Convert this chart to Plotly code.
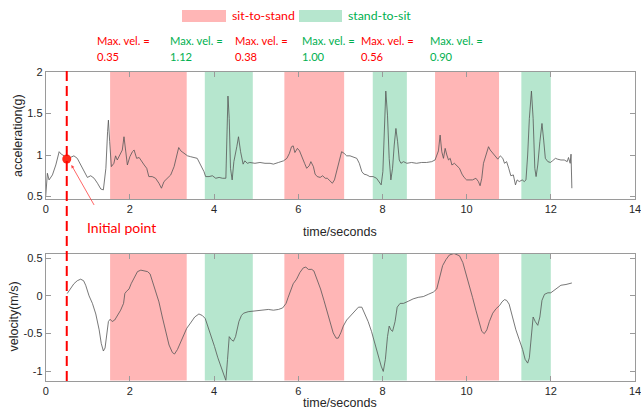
import plotly.graph_objects as go

W, H = 641, 414

# ---------------- data ----------------
t_acc = [0.00, 0.04, 0.08, 0.16, 0.24, 0.32, 0.37, 0.44, 0.50, 0.59, 0.67, 0.75, 0.83, 0.91, 0.99,
         1.07, 1.15, 1.23, 1.31, 1.37, 1.43, 1.47, 1.49, 1.52, 1.56, 1.62, 1.66, 1.70, 1.77, 1.82,
         1.86, 1.90, 1.94, 2.00, 2.06, 2.10, 2.16, 2.22, 2.28, 2.34, 2.40, 2.45, 2.53, 2.61, 2.69,
         2.75, 2.81, 2.89, 2.97, 3.05, 3.11, 3.16, 3.21, 3.29, 3.37, 3.44, 3.52, 3.60, 3.68, 3.76,
         3.80, 3.88, 3.96, 4.04, 4.12, 4.20, 4.28, 4.30, 4.33, 4.36, 4.39, 4.43, 4.47, 4.54, 4.58,
         4.63, 4.69, 4.73, 4.79, 4.85, 4.97, 5.09, 5.21, 5.33, 5.41, 5.53, 5.65, 5.73, 5.79, 5.84,
         5.88, 5.92, 5.98, 6.03, 6.08, 6.15, 6.20, 6.26, 6.30, 6.36, 6.40, 6.45, 6.52, 6.58, 6.64,
         6.69, 6.75, 6.81, 6.86, 6.91, 6.96, 6.99, 7.03, 7.09, 7.15, 7.23, 7.31, 7.39, 7.45, 7.51,
         7.56, 7.63, 7.70, 7.78, 7.86, 7.93, 7.97, 8.01, 8.04, 8.08, 8.12, 8.16, 8.20, 8.24, 8.28,
         8.32, 8.36, 8.40, 8.44, 8.50, 8.58, 8.69, 8.81, 8.93, 9.05, 9.17, 9.25, 9.29, 9.33, 9.37,
         9.41, 9.45, 9.49, 9.53, 9.57, 9.61, 9.65, 9.71, 9.76, 9.83, 9.89, 9.94, 10.00, 10.06,
         10.14, 10.22, 10.28, 10.32, 10.36, 10.40, 10.46, 10.52, 10.56, 10.62, 10.68, 10.74, 10.80,
         10.86, 10.90, 10.95, 11.00, 11.05, 11.11, 11.16, 11.20, 11.25, 11.32, 11.37, 11.41, 11.45,
         11.49, 11.54, 11.58, 11.62, 11.65, 11.69, 11.74, 11.79, 11.83, 11.87, 11.93, 11.99, 12.04,
         12.11, 12.16, 12.24, 12.32, 12.39, 12.42, 12.46, 12.48, 12.50]
acc = [0.50, 0.78, 0.70, 0.76, 0.88, 1.04, 1.01, 0.99, 0.95, 0.97, 0.99, 0.96, 0.88, 0.80, 0.73,
       0.75, 0.72, 0.66, 0.59, 0.58, 0.84, 1.28, 1.42, 1.16, 0.86, 0.90, 0.99, 0.94, 1.02, 1.06,
       1.22, 1.04, 0.88, 0.98, 1.04, 1.06, 0.96, 0.97, 0.92, 0.88, 0.84, 0.74, 0.74, 0.72, 0.66,
       0.60, 0.68, 0.72, 0.76, 0.86, 1.00, 1.09, 1.05, 1.02, 0.99, 0.98, 0.97, 0.96, 0.88, 0.80,
       0.74, 0.74, 0.75, 0.72, 0.73, 0.72, 0.72, 1.24, 1.71, 1.44, 0.84, 0.70, 0.92, 1.10, 1.22,
       1.04, 0.89, 0.93, 0.90, 0.91, 0.90, 0.91, 0.90, 0.90, 0.89, 0.91, 0.93, 0.96, 1.02, 1.10,
       1.11, 1.03, 1.08, 1.05, 0.98, 0.90, 0.84, 0.87, 0.92, 0.86, 0.77, 0.74, 0.73, 0.75, 0.72,
       0.72, 0.69, 0.66, 0.70, 0.80, 0.92, 0.98, 1.04, 1.02, 0.99, 0.99, 0.97, 0.96, 0.90, 0.80,
       0.77, 0.76, 0.74, 0.74, 0.72, 0.67, 0.64, 0.80, 1.24, 1.77, 1.48, 0.96, 0.70, 0.84, 1.12,
       1.32, 1.16, 0.94, 0.90, 0.92, 0.90, 0.91, 0.90, 0.91, 0.91, 0.92, 0.94, 1.00, 1.05, 1.24,
       1.04, 0.96, 1.08, 1.00, 0.94, 0.96, 0.88, 0.90, 0.87, 0.84, 0.77, 0.73, 0.70, 0.70,
       0.70, 0.72, 0.68, 0.63, 0.72, 0.90, 0.99, 1.10, 1.06, 1.02, 0.98, 0.95, 0.99,
       0.96, 0.90, 0.92, 0.84, 0.75, 0.76, 0.64, 0.70, 0.68, 0.70, 0.68, 0.70, 1.00,
       1.44, 1.77, 1.44, 0.84, 0.74, 0.88, 1.16, 1.38, 1.18, 0.96, 0.92, 0.91, 0.93,
       0.96, 0.95, 0.94, 0.94, 0.92, 0.97, 0.90, 1.01, 0.60]

t_vel = [0.51, 0.59, 0.67, 0.75, 0.83, 0.90, 0.95, 1.03, 1.11, 1.19, 1.27, 1.32, 1.37, 1.41, 1.45,
         1.49, 1.53, 1.58, 1.64, 1.70, 1.78, 1.85, 1.88, 1.92, 1.98, 2.03, 2.10, 2.18, 2.26, 2.34,
         2.42, 2.48, 2.53, 2.61, 2.69, 2.77, 2.85, 2.93, 3.01, 3.06, 3.13, 3.19, 3.27, 3.35, 3.44,
         3.54, 3.64, 3.72, 3.79, 3.86, 3.94, 4.01, 4.09, 4.17, 4.24, 4.28, 4.32, 4.36, 4.41, 4.46,
         4.51, 4.59, 4.65, 4.70, 4.81, 4.97, 5.13, 5.29, 5.41, 5.53, 5.63, 5.71, 5.76, 5.82, 5.88,
         5.96, 6.04, 6.12, 6.18, 6.24, 6.32, 6.37, 6.45, 6.53, 6.61, 6.69, 6.77, 6.83, 6.90, 6.95,
         7.01, 7.07, 7.15, 7.25, 7.35, 7.43, 7.51, 7.59, 7.66, 7.74, 7.82, 7.90, 7.97, 8.02, 8.07,
         8.12, 8.16, 8.20, 8.24, 8.30, 8.35, 8.42, 8.50, 8.62, 8.73, 8.85, 8.97, 9.09, 9.21, 9.29,
         9.33, 9.37, 9.43, 9.51, 9.59, 9.70, 9.83, 9.91, 9.98, 10.06, 10.14, 10.22, 10.30, 10.36,
         10.42, 10.48, 10.54, 10.62, 10.70, 10.78, 10.84, 10.90, 10.95, 11.01, 11.09, 11.17, 11.25,
         11.33, 11.39, 11.45, 11.49, 11.53, 11.58, 11.63, 11.69, 11.74, 11.79, 11.85, 11.93, 12.00,
         12.08, 12.16, 12.24, 12.36, 12.44, 12.50]
vel = [0.03, 0.09, 0.16, 0.20, 0.22, 0.20, 0.14, 0.00, -0.10, -0.24, -0.45, -0.63, -0.73, -0.69, -0.50,
       -0.34, -0.31, -0.34, -0.32, -0.26, -0.19, -0.10, 0.03, 0.06, 0.09, 0.16, 0.24, 0.32, 0.34, 0.33,
       0.32, 0.29, 0.20, 0.07, -0.08, -0.28, -0.47, -0.65, -0.75, -0.77, -0.71, -0.63, -0.52, -0.43, -0.36,
       -0.28, -0.24, -0.26, -0.30, -0.41, -0.54, -0.67, -0.82, -0.95, -1.08, -1.12, -0.84, -0.54, -0.58, -0.60,
       -0.54, -0.34, -0.26, -0.23, -0.21, -0.20, -0.19, -0.18, -0.19, -0.18, -0.16, -0.10, -0.02, 0.07, 0.16,
       0.22, 0.31, 0.37, 0.38, 0.35, 0.35, 0.33, 0.22, 0.09, -0.06, -0.21, -0.37, -0.49, -0.56, -0.56,
       -0.49, -0.40, -0.32, -0.26, -0.19, -0.15, -0.15, -0.24, -0.34, -0.47, -0.63, -0.80, -0.93, -1.00, -0.84,
       -0.54, -0.40, -0.45, -0.47, -0.34, -0.15, -0.10, -0.10, -0.07, -0.04, -0.02, -0.01, 0.02, 0.05, 0.09,
       0.17, 0.27, 0.40, 0.48, 0.54, 0.56, 0.53, 0.44, 0.31, 0.16, -0.02, -0.19, -0.37, -0.47,
       -0.50, -0.45, -0.34, -0.23, -0.17, -0.13, -0.08, -0.05, -0.06, -0.11, -0.28, -0.45, -0.58,
       -0.71, -0.84, -0.89, -0.82, -0.58, -0.28, -0.34, -0.39, -0.28, -0.06, 0.02, 0.04, 0.04,
       0.07, 0.10, 0.14, 0.15, 0.16, 0.17]

s2s_start = [1.53, 5.67, 9.25]      # sit-to-stand phases (s)
s2s_end = [3.35, 7.09, 10.77]
st2s_start = [3.78, 7.77, 11.30]    # stand-to-sit phases (s)
st2s_end = [4.92, 8.58, 12.00]

max_vel_values = ["0.35", "1.12", "0.38", "1.00", "0.56", "0.90"]
max_vel_kind = ["s2s", "st2s", "s2s", "st2s", "s2s", "st2s"]

initial_t = 0.5
initial_acc = 0.952

x_ticks = [0, 2, 4, 6, 8, 10, 12, 14]
acc_ticks = [0.5, 1, 1.5, 2]
acc_ticktext = ["0.5", "1", "1.5", "2"]
vel_ticks = [-1, -0.5, 0, 0.5]
vel_ticktext = ["-1", "-0.5", "0", "0.5"]

# ---------------- styling ----------------
RED_FILL = "#FFB6B6"
GREEN_FILL = "#B6E6CE"
RED_TXT = "#FF0000"
GREEN_TXT = "#00B050"
AX_COL = "#9A9A9A"
TXT_COL = "#262626"
LINE_COL = "#555555"
TICK_FONT = dict(family="Liberation Sans, Arial", size=11, color=TXT_COL)
LABEL_FONT = dict(family="Liberation Sans, Arial", size=12.5, color=TXT_COL)
ANN_FONT = "Lato"


def px(x):
    return x / W


def py(y):
    return 1 - y / H


x_dom = [px(45.7), px(635)]
top_dom = [py(199), py(72)]
bot_dom = [py(380.5), py(253.5)]

fig = go.Figure()
fig.add_trace(go.Scatter(x=t_acc, y=acc, mode="lines", xaxis="x", yaxis="y",
                         line=dict(color=LINE_COL, width=0.8), showlegend=False))
fig.add_trace(go.Scatter(x=t_vel, y=vel, mode="lines", xaxis="x2", yaxis="y2",
                         line=dict(color=LINE_COL, width=0.8), showlegend=False))
fig.add_trace(go.Scatter(x=[initial_t], y=[initial_acc], mode="markers", xaxis="x", yaxis="y",
                         marker=dict(color="#FF2A1A", size=9), showlegend=False))

shapes = []
for xr, yr in (("x", "y domain"), ("x2", "y2 domain")):
    for a, b in zip(s2s_start, s2s_end):
        shapes.append(dict(type="rect", xref=xr, yref=yr, x0=a, x1=b, y0=0, y1=1,
                           fillcolor=RED_FILL, line=dict(width=0), layer="below"))
    for a, b in zip(st2s_start, st2s_end):
        shapes.append(dict(type="rect", xref=xr, yref=yr, x0=a, x1=b, y0=0, y1=1,
                           fillcolor=GREEN_FILL, line=dict(width=0), layer="below"))
# red dashed initial line across both panels
shapes.append(dict(type="line", xref="x", yref="paper", x0=initial_t, x1=initial_t,
                   y0=py(381), y1=py(66), line=dict(color="#FF0000", width=2, dash="10px,5px")))
# legend patches
shapes.append(dict(type="rect", xref="paper", yref="paper", x0=px(182), x1=px(226),
                   y0=py(22), y1=py(10), fillcolor=RED_FILL, line=dict(width=0)))
shapes.append(dict(type="rect", xref="paper", yref="paper", x0=px(299), x1=px(342),
                   y0=py(22), y1=py(10), fillcolor=GREEN_FILL, line=dict(width=0)))

annotations = []
annotations.append(dict(xref="paper", yref="paper", x=px(229.5), y=py(16), text="sit-to-stand",
                        showarrow=False, xanchor="left", yanchor="middle",
                        font=dict(family=ANN_FONT, size=12.3, color=RED_TXT)))
annotations.append(dict(xref="paper", yref="paper", x=px(346), y=py(16), text="stand-to-sit",
                        showarrow=False, xanchor="left", yanchor="middle",
                        font=dict(family=ANN_FONT, size=12.3, color=GREEN_TXT)))
label_x = [95, 167.5, 232.5, 300, 358.5, 427.5]
for lx, val, kind in zip(label_x, max_vel_values, max_vel_kind):
    col = RED_TXT if kind == "s2s" else GREEN_TXT
    annotations.append(dict(xref="paper", yref="paper", x=px(lx), y=py(40.5),
                            text="Max. vel. =", showarrow=False, xanchor="left", yanchor="middle",
                            font=dict(family=ANN_FONT, size=11.2, color=col)))
    annotations.append(dict(xref="paper", yref="paper", x=px(lx), y=py(57),
                            text=val, showarrow=False, xanchor="left", yanchor="middle",
                            font=dict(family=ANN_FONT, size=11.2, color=col)))
# initial point arrow + label
annotations.append(dict(xref="x", yref="y", x=0.61, y=0.88, axref="x", ayref="y",
                        ax=1.17, ay=0.38, text="", showarrow=True, arrowhead=2,
                        arrowsize=0.8, arrowwidth=0.8, arrowcolor="#FF4040"))
annotations.append(dict(xref="paper", yref="paper", x=px(121.5), y=py(227), text="Initial point",
                        showarrow=False, xanchor="center", yanchor="middle",
                        font=dict(family=ANN_FONT, size=14, color=RED_TXT)))
# axis titles
annotations.append(dict(xref="paper", yref="paper", x=px(340), y=py(232), text="time/seconds",
                        showarrow=False, xanchor="center", yanchor="middle", font=LABEL_FONT))
annotations.append(dict(xref="paper", yref="paper", x=px(340), y=py(403), text="time/seconds",
                        showarrow=False, xanchor="center", yanchor="middle", font=LABEL_FONT))
annotations.append(dict(xref="paper", yref="paper", x=px(17.5), y=py(135.5), text="acceleration(g)",
                        showarrow=False, xanchor="center", yanchor="middle", textangle=-90,
                        font=LABEL_FONT))
annotations.append(dict(xref="paper", yref="paper", x=px(13.5), y=py(317), text="velocity(m/s)",
                        showarrow=False, xanchor="center", yanchor="middle", textangle=-90,
                        font=LABEL_FONT))

axis_common = dict(showgrid=False, zeroline=False, showline=True, linecolor=AX_COL, linewidth=1,
                   mirror="ticks", ticks="inside", ticklen=5, tickcolor=AX_COL, tickwidth=1,
                   tickfont=TICK_FONT, ticklabeloverflow="allow", automargin=False)

fig.update_layout(
    width=W, height=H,
    margin=dict(l=0, r=0, t=0, b=0, autoexpand=False),
    paper_bgcolor="white", plot_bgcolor="white",
    showlegend=False,
    xaxis=dict(domain=x_dom, anchor="y", range=[0, 14], tickvals=x_ticks, **axis_common),
    yaxis=dict(domain=top_dom, anchor="x", range=[0.47, 2.0], tickvals=acc_ticks,
               ticktext=acc_ticktext, **axis_common),
    xaxis2=dict(domain=x_dom, anchor="y2", range=[0, 14], tickvals=x_ticks, **axis_common),
    yaxis2=dict(domain=bot_dom, anchor="x2", range=[-1.12, 0.56], tickvals=vel_ticks,
                ticktext=vel_ticktext, **axis_common),
    shapes=shapes,
    annotations=annotations,
)

fig.write_html("out.html", config={"displayModeBar": False},
               post_script="document.body.style.margin='0';document.body.style.overflow='hidden';")
